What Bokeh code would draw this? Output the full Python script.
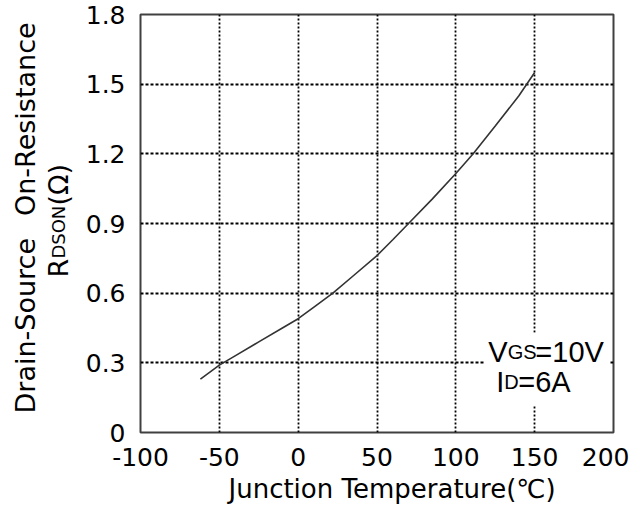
from math import pi
from bokeh.plotting import figure
from bokeh.layouts import row
from bokeh.models import FixedTicker, Label, BoxAnnotation, Range1d, Title
from bokeh.embed import file_html
from bokeh.resources import INLINE

# Data
temp_c = [-62, -50, -40, -25, -10, 0, 10, 22, 35, 50, 60, 70, 85, 100, 111, 125, 140, 150]
rdson_ohm = [0.23, 0.29, 0.33, 0.39, 0.45, 0.49, 0.54, 0.60, 0.675, 0.762, 0.83, 0.90,
             1.005, 1.115, 1.20, 1.32, 1.45, 1.55]

x_ticks = [-100, -50, 0, 50, 100, 150, 200]
x_tick_labels = ["-100", "-50", "0", "50", "100", "150", "200"]
y_ticks = [0, 0.3, 0.6, 0.9, 1.2, 1.5, 1.8]
y_tick_labels = ["0", "0.3", "0.6", "0.9", "1.2", "1.5", "1.8"]

AX_FONT = "DejaVu Sans"
NOTE_FONT = "Liberation Sans"
TOP, BOTTOM, H = 14, 78, 510
LEFT_W = 80

y_rng = Range1d(0, 1.8)

# ---- main plot ----
p = figure(width=629 - LEFT_W, height=H,
           x_range=Range1d(-100, 200), y_range=y_rng,
           output_backend="svg", toolbar_location=None,
           min_border_left=140 - LEFT_W, min_border_right=16,
           min_border_top=TOP, min_border_bottom=BOTTOM)

p.line(temp_c, rdson_ohm, line_color="#333333", line_width=1.6)

p.xaxis.ticker = FixedTicker(ticks=x_ticks)
p.yaxis.ticker = FixedTicker(ticks=y_ticks)
p.xaxis.major_label_overrides = {t: s for t, s in zip(x_ticks, x_tick_labels)}
p.yaxis.major_label_overrides = {t: s for t, s in zip(y_ticks, y_tick_labels)}
for ax in (p.xaxis, p.yaxis):
    ax.axis_line_color = None
    ax.major_tick_line_color = None
    ax.minor_tick_line_color = None
    ax.major_label_text_font = AX_FONT
    ax.major_label_text_font_size = "25px"
    ax.major_label_text_color = "black"
p.xaxis.major_label_standoff = 9
p.yaxis.major_label_standoff = 9

p.add_layout(Title(text="Junction Temperature(\u2103)", align="left", offset=88,
                   standoff=6, text_font=AX_FONT, text_font_size="26px",
                   text_font_style="normal", text_color="black"), "below")

p.xgrid.ticker = FixedTicker(ticks=x_ticks)
p.ygrid.ticker = FixedTicker(ticks=y_ticks)
for g, dash in ((p.xgrid, "2 2"), (p.ygrid, "3 2")):
    g.grid_line_color = "black"
    g.grid_line_width = 1.8
    g.grid_line_dash = dash

p.outline_line_color = "#404040"
p.outline_line_width = 2
p.background_fill_color = "white"
p.border_fill_color = "white"

# condition note with white backdrop
p.add_layout(BoxAnnotation(left=118, right=197.5, bottom=0.116, top=0.43,
                           fill_color="white", fill_alpha=1.0, line_color=None))
note = [
    (120.6, 0.297, 0, "V", "29px"),
    (120.6, 0.297, 19.5, "GS", "20px"),
    (120.6, 0.297, 47, "=10V", "29px"),
    (125.6, 0.164, 0, "I", "29px"),
    (125.6, 0.164, 8, "D", "20px"),
    (125.6, 0.164, 22, "=6A", "29px"),
]
for nx, ny, off, txt, fs in note:
    p.add_layout(Label(x=nx, y=ny, x_offset=off, y_offset=12, text=txt,
                       text_font=NOTE_FONT, text_font_size=fs, text_color="black",
                       text_align="left", text_baseline="alphabetic"))

# ---- y-axis title strip (shares the y range) ----
q = figure(width=LEFT_W, height=H, x_range=Range1d(0, LEFT_W), y_range=y_rng,
           output_backend="svg", toolbar_location=None,
           x_axis_location=None, y_axis_location=None,
           min_border_left=0, min_border_right=0,
           min_border_top=TOP, min_border_bottom=BOTTOM)
q.grid.visible = False
q.outline_line_color = None
q.background_fill_color = "white"
q.border_fill_color = "white"

ylab = [
    (25, 0.082, 0, "Drain-Source", "27px", "left"),
    (25, 1.766, 0, "On-Resistance", "27px", "right"),
    (58, 0.667, 0, "R", "27px", "left"),
    (58, 0.667, 19, "DSON", "18px", "left"),
    (58, 0.667, 72, "(\u03a9)", "27px", "left"),
]
for lx, ly, off, txt, fs, al in ylab:
    q.add_layout(Label(x=lx, y=ly, y_offset=off, angle=pi / 2, text=txt,
                       text_font=AX_FONT, text_font_size=fs, text_color="black",
                       text_align=al, text_baseline="alphabetic"))

layout = row(q, p, spacing=0)
open("out.html", "w").write(file_html(layout, INLINE))
